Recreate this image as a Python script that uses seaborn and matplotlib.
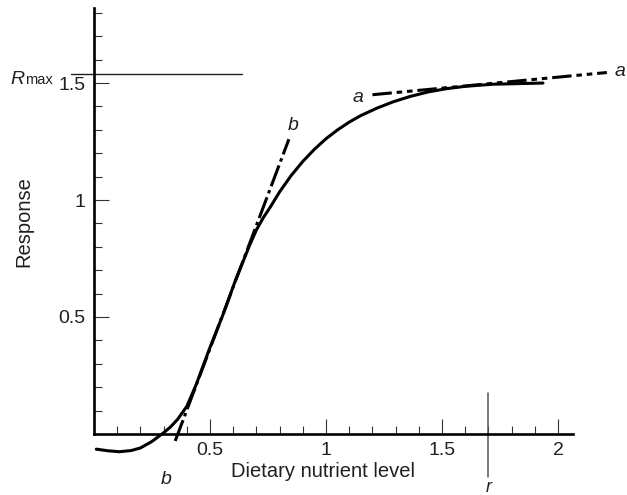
import numpy as np
import matplotlib
matplotlib.use("Agg")
import matplotlib.pyplot as plt
import seaborn as sns

# response curve
nutrient = [0.01, 0.06, 0.11, 0.16, 0.20, 0.25, 0.30, 0.33, 0.36, 0.40,
            0.44, 0.47, 0.50, 0.53, 0.56, 0.61, 0.64, 0.67, 0.70, 0.73,
            0.76, 0.80, 0.85, 0.90, 0.95, 1.00, 1.05, 1.10, 1.15, 1.22,
            1.29, 1.36, 1.44, 1.52, 1.60, 1.72, 1.935]
response = [-0.065, -0.072, -0.076, -0.071, -0.060, -0.032, 0.005, 0.030, 0.062, 0.118,
            0.210, 0.290, 0.370, 0.445, 0.520, 0.658, 0.731, 0.805, 0.872, 0.925,
            0.970, 1.035, 1.105, 1.165, 1.217, 1.262, 1.300, 1.333, 1.361, 1.393,
            1.420, 1.442, 1.462, 1.476, 1.486, 1.495, 1.500]

# tangent lines (end points)
b_x = [0.35, 0.84]
b_y = [-0.03, 1.26]
a_x = [1.20, 2.21]
a_y = [1.45, 1.545]

r_max = 1.54
r_level = 1.70

x_major = [0.5, 1, 1.5, 2]
x_major_labels = ["0.5", "1", "1.5", "2"]
x_minor = [0.1, 0.2, 0.3, 0.4, 0.6, 0.7, 0.8, 0.9, 1.1, 1.2, 1.3, 1.4,
           1.6, 1.7, 1.8, 1.9]
y_major = [0.5, 1, 1.5]
y_major_labels = ["0.5", "1", "1.5"]
y_minor = [0.1, 0.2, 0.3, 0.4, 0.6, 0.7, 0.8, 0.9, 1.1, 1.2, 1.3, 1.4,
           1.6, 1.7, 1.8]

sns.set_theme(style="ticks")
plt.rcParams["font.family"] = ["Liberation Sans", "DejaVu Sans"]
plt.rcParams["lines.scale_dashes"] = False
ink = "#231f20"

fig = plt.figure(figsize=(6.27, 4.95), dpi=100)
ax = fig.add_axes([0, 0, 1, 1])
ax.set_xlim(-0.405, 2.297)
ax.set_ylim(-0.261, 1.855)

# main curve
sns.lineplot(x=nutrient, y=response, ax=ax, color="black", lw=2.2,
             estimator=None, sort=False)
ax.lines[-1].set_solid_joinstyle("round")

# tangents
ax.plot(b_x, b_y, color="black", lw=2.2, dashes=(16, 3, 2.5, 3),
        solid_capstyle="butt")
ax.plot(a_x, a_y, color="black", lw=2.2, dashes=(14, 3.5, 4, 3.5, 4, 3.5))

# Rmax line and r marker
ax.plot([-0.1, 0.64], [r_max, r_max], color=ink, lw=1.0, clip_on=False)
ax.plot([r_level, r_level], [-0.185, 0.175], color="#555555", lw=1.1)

ax.text(-0.362, 1.495, "R", style="italic", fontsize=14, color=ink,
        ha="left", va="baseline")
ax.text(-0.295, 1.495, "max", fontsize=10.5, color=ink,
        ha="left", va="baseline")

ax.text(0.31, -0.195, "b", style="italic", fontsize=14, color=ink,
        ha="center", va="center")
ax.text(0.858, 1.32, "b", style="italic", fontsize=14, color=ink,
        ha="center", va="center")
ax.text(1.138, 1.44, "a", style="italic", fontsize=14, color=ink,
        ha="center", va="center")
ax.text(2.267, 1.55, "a", style="italic", fontsize=14, color=ink,
        ha="center", va="center")
ax.text(r_level, -0.228, "r", style="italic", fontsize=13, color=ink,
        ha="center", va="center")

# axes styling
sns.despine(ax=ax)
ax.spines["left"].set_position(("data", 0))
ax.spines["bottom"].set_position(("data", 0))
ax.spines["left"].set_bounds(0, 1.82)
ax.spines["bottom"].set_bounds(0, 2.065)
for s in ["left", "bottom"]:
    ax.spines[s].set_linewidth(1.9)
    ax.spines[s].set_color("black")

ax.set_xticks(x_major)
ax.set_xticklabels(x_major_labels)
ax.set_xticks(x_minor, minor=True)
ax.set_yticks(y_major)
ax.set_yticklabels(y_major_labels)
ax.set_yticks(y_minor, minor=True)
ax.tick_params(which="major", direction="in", length=11, width=0.8,
               color="#333333", labelsize=14, labelcolor=ink, pad=6)
ax.tick_params(which="minor", direction="in", length=5.5, width=0.8,
               color="#333333")

ax.set_xlabel("Dietary nutrient level", fontsize=14.5, color=ink)
ax.set_ylabel("Response", fontsize=14.5, color=ink)
ax.xaxis.set_label_coords(0.515, 0.067)
ax.yaxis.set_label_coords(0.053, 0.553)

fig.savefig("out.png", dpi=100)
